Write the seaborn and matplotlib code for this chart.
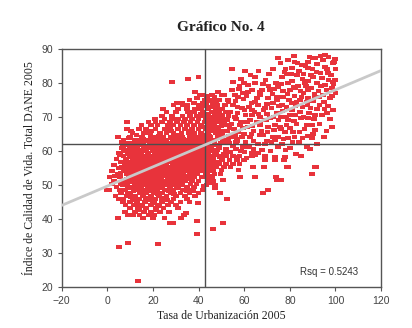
import numpy as np
import pandas as pd
import matplotlib
matplotlib.use("Agg")
import matplotlib.pyplot as plt
import seaborn as sns

# ---- data: rows of (ICV value, [urbanization values]) ----
core_rows = [
    (66.5, [8.5, 13.8, 17, 21, 25, 27.5, 31, 34, 37, 40, 43, 46]),
    (65.3, [11, 16, 18.6, 23, 26, 29, 32.5, 35.5, 38, 41, 44, 47.5, 50]),
    (64.1, [4.6, 9.8, 15.1, 19, 21.5, 24.5, 28, 30.5, 33, 36, 39.5, 42, 45, 48.5]),
    (63.2, [7, 12, 14, 17.5, 20, 23, 26, 29.5, 31.5, 34.5, 37.5, 40.5, 43.5, 46.3, 51]),
    (62.2, [9, 11.5, 15.5, 18.5, 22, 25, 27, 30, 33, 35.5, 38.5, 41.5, 44, 47]),
    (61.2, [6.8, 10, 13, 16.5, 19.5, 21, 24, 27.5, 29, 32, 34, 37, 40, 42.5, 45.5, 49]),
    (60.3, [8, 12, 14.5, 17, 20.5, 23, 25.5, 28.5, 31, 33.5, 36, 39, 43, 46, 48]),
    (59.4, [5, 9.5, 11, 15, 18, 21.5, 24.5, 27, 30, 32.5, 35, 38, 41, 44, 47.5, 52]),
    (58.5, [7, 10.5, 13.5, 16, 19, 22.5, 26, 28, 31, 34.5, 37, 40, 42.5, 45, 49.5]),
    (57.6, [4, 8, 12, 14.5, 17.5, 20, 23.5, 25, 29, 32, 36, 39, 43.5, 46.5]),
    (56.7, [6, 10, 13, 15.5, 18.5, 21, 24, 27, 30.5, 33, 35, 38, 41.5, 44.5, 48]),
    (55.8, [3, 7.5, 11, 14, 16.5, 19.5, 22.5, 26, 28.5, 31.5, 34, 37, 40, 43, 46]),
    (54.9, [5, 9, 12.5, 15, 18, 21, 23.5, 27.5, 30, 33, 36, 39, 42, 45]),
    (54.0, [2, 7, 10.5, 13.5, 17, 20, 22, 25, 29, 31.5, 34.5, 38, 41, 44.5]),
    (53.1, [4.5, 8.5, 12, 15.5, 18.5, 21.5, 24, 26.5, 30.5, 33, 36, 39.5, 43]),
    (52.2, [1, 5.5, 9.5, 11, 14, 17, 20, 23, 27, 29.5, 32, 35, 38, 41.5]),
    (51.3, [3, 7, 10, 13, 16, 19, 22, 25, 28, 31, 34, 37, 40]),
    (50.4, [2, 6, 8.5, 12, 14.5, 18, 21, 24, 26.5, 30, 33, 36.5, 39]),
    (49.5, [4, 9, 11.5, 15, 17.5, 20, 23, 27.5, 31, 35, 38]),
    (48.6, [-0.3, 1, 5.5, 8, 12.5, 16, 19, 22, 25, 29, 33, 37, 42]),
    (47.7, [6, 10, 14, 17, 20.5, 24, 28, 32, 36, 40]),
    (46.8, [3.5, 8.5, 12, 15.5, 19, 22.5, 26, 30, 34, 38.5]),
    (45.9, [5, 7, 11, 14, 18, 21, 25, 29, 35]),
    (45.0, [6.8, 10, 13, 16.5, 20, 24, 28, 32, 36]),
    (44.1, [8, 11.5, 15, 19, 22, 26.5, 30]),
    (43.2, [10, 13.3, 17, 21, 24.5, 30.9]),
    (42.0, [7.6, 12, 16, 19, 23, 27]),
    (41.2, [9, 11.2, 14, 18, 20.5, 33.5]),
    (40.3, [4.6, 15.5, 20, 25, 32.2]),
    (38.8, [27.4, 28.7]),
]

upper_left_rows = [
    (67.6, [15, 19, 22, 26.5, 29, 32, 35, 38, 41, 44, 47, 50.5, 53]),
    (68.5, [8.5, 18, 21, 24, 27.5, 30.5, 33.5, 36.5, 39.5, 42.5, 44.1, 46, 49]),
    (69.4, [20.8, 25, 28.3, 31, 34, 37, 40, 43, 45.5, 48, 51.5]),
    (70.3, [23.9, 28.3, 33, 36.2, 39.2, 41.5, 44, 47.5, 50.2, 53]),
    (71.5, [26, 30, 35.3, 38, 42, 45.8, 49, 52]),
    (72.4, [24.3, 31, 34.8, 38.4, 41, 44, 47.5, 50.5]),
    (73.5, [29, 33, 34.8, 40, 43.5, 48, 51.5, 55]),
    (74.1, [30.5, 33, 38, 42, 46]),
    (75.0, [36, 42.7, 45, 49, 52.8]),
    (76.5, [40.6, 41.9, 45.8, 50]),
    (77.4, [38.4, 48.5]),
    (80.3, [28.3]),
    (81.2, [35.3]),
    (81.8, [40]),
]

lower_rows = [
    (58.5, [52, 55, 58, 63.4, 69]),
    (57.4, [50.2, 53.5, 56.8, 60, 69.1, 73.5, 77.4]),
    (56.3, [49, 52, 55, 58]),
    (55.3, [47.5, 51, 54, 63.8, 68.6, 78.7, 91.5]),
    (54.4, [46.5, 50, 57.5]),
    (53.2, [47, 49.5, 89.7]),
    (52.4, [46, 58.1, 64.7, 73.9]),
    (51.5, [44, 74.3, 76.1, 50.6]),
    (50.0, [43.5, 47.1]),
    (49.1, [47.1]),
    (48.2, [37.5]),
    (47.6, [49.3, 68.2]),
    (48.5, [70.4]),
    (46.0, [52.4]),
    (44.7, [39.7]),
    (41.8, [34.4]),
    (39.4, [39.2]),
    (38.8, [50.6]),
    (37.0, [46.3]),
    (35.6, [39.2]),
    (33.0, [9]),
    (32.6, [22.2]),
    (31.8, [5]),
    (21.8, [13.3]),
]

middle_rows = [
    (84.1, [54.6]), (83.5, [60.3]), (82.6, [70.8]), (81.8, [64.7]), (80.3, [55]),
    (80.0, [59.9, 73.9]), (79.4, [61.6]), (79.7, [68.2]), (79.0, [58]), (78.0, [63.5]),
    (77.9, [54.6, 71.3]), (77.1, [59.4]), (77.4, [66.9]), (76.5, [56]), (76.0, [61]),
    (75.9, [57.2, 74.3]), (75.6, [70.4]), (75.5, [65.5]), (75.0, [52.8]), (74.5, [53]),
    (74.4, [64.7]), (74.1, [72.6]), (73.5, [51.5, 66]), (73.0, [57, 62]), (72.9, [48]),
    (72.6, [59, 69.1]), (72.5, [72]), (72.0, [68.5]), (71.5, [45.8, 54, 64.5]),
    (71.0, [70]), (70.6, [50.2, 63.4]), (70.5, [60.5]), (70.0, [55.9, 67]),
    (69.7, [71.3]), (69.5, [56.5]), (69.0, [52.5, 62.5]), (68.5, [48, 58.5, 65.5]),
    (68.0, [54.5]), (67.6, [52.8, 66.9, 73.5]), (67.2, [50]), (67.0, [45.5, 61.5, 70.5]),
    (66.8, [59.4]), (66.5, [55.5]), (66.2, [48.5]), (66.0, [51, 64, 67.5]), (65.8, [46.5]),
    (65.5, [57.5]), (65.0, [60]), (64.8, [49]), (64.7, [55.9, 68.2]), (64.5, [44.5, 53]),
    (64.1, [62.5, 72.6]), (63.5, [50.5]), (63.2, [46.3]), (63.0, [57, 64, 70]),
    (62.8, [47]), (62.5, [60.5, 72]), (62.4, [51.5]), (62.2, [53.5]), (62.0, [66]),
    (61.5, [45, 55]), (61.2, [59.4, 62]), (61.0, [49]), (60.5, [52]), (60.3, [47.1, 67.8]),
    (60.0, [58.5, 71.5]), (59.5, [66]), (59.4, [63.4]), (58.8, [64.7]), (58.2, [56.8, 73.5]),
    (58.0, [61]), (57.9, [50.2]),
]

right_rows = [
    (88.2, [95.4]), (87.5, [97]), (87.4, [74.8, 90.1, 91]), (87.0, [99.8]), (86.8, [79.2]),
    (86.0, [82, 88]), (85.9, [98.9]), (85.5, [92]), (85.3, [85.3]), (84.7, [95.4]),
    (84.4, [80.9, 87.9]), (84.0, [78, 90, 100]), (83.5, [84]), (83.0, [93.5]), (82.9, [96.7]),
    (82.5, [78.5, 86]), (82.4, [83.1]), (81.8, [76.5, 90.1]), (81.5, [94]), (81.0, [85.5]),
    (80.9, [99.8]), (80.5, [81, 88]), (80.3, [98.9]), (80.0, [79.2, 86.6, 92]), (79.4, [95.4]),
    (79.0, [83.5]), (78.8, [74.8]), (78.5, [82.2, 89.5, 98.5]), (78.0, [80, 96]), (77.9, [87.9]),
    (77.5, [77, 92.5]), (77.0, [86, 100]), (76.5, [94.5]), (76.0, [82]), (75.9, [77, 91]),
    (75.5, [88, 97.5]), (75.0, [74.3, 84.4]), (74.5, [83, 95]), (74.4, [87.5]), (74.1, [80.9]),
    (73.5, [76.5, 93]), (73.0, [78.5, 85.5]), (72.5, [89]), (72.4, [91.9]), (72.0, [81, 99]),
    (71.5, [84.4]), (71.2, [74.3, 96.3]), (70.6, [82.2]), (70.5, [80, 94]), (70.0, [76, 86]),
    (69.7, [87.9]), (69.5, [90.5, 97.5]), (69.1, [79.2]), (69.0, [75]), (68.0, [83, 93]),
    (67.6, [89.7]), (67.5, [78.5]), (67.1, [75.7, 98.5]), (66.5, [86.5]), (66.2, [91]),
    (66.0, [96]), (65.6, [77.8, 81.4]), (64.5, [88]), (64.1, [74.8]), (64.0, [82, 95]),
    (63.8, [79.2, 89.7]), (62.5, [84]), (62.0, [76.5, 92]), (61.2, [74.8, 87.5]), (61.0, [80]),
    (60.6, [88.8]), (58.5, [85]), (58.2, [77.8]), (55.3, [79.2, 91]),
]

# extra (urbanization, ICV) pairs filling the dense parts of the cloud
core_fill = [
    (10.3,66.0),(19.4,65.9),(28.1,65.8),(36.2,65.9),(44.6,65.8),
    (12.8,64.8),(22.6,64.5),(31.4,64.6),(37.8,64.5),(43.3,64.7),
    (9.4,63.7),(15.8,63.6),(21.4,63.8),(24.6,63.6),(28.1,63.7),(33.2,63.5),(36.1,63.8),(39.2,63.6),(42.1,63.9),(48.3,63.7),
    (6.3,62.7),(13.4,62.6),(17.1,62.8),(20.6,62.5),(23.9,62.7),(28.7,62.6),(31.6,62.9),(34.3,62.4),(37.2,62.6),(40.1,62.7),(42.8,62.5),(45.6,62.8),
    (8.4,61.7),(11.6,61.6),(14.7,61.8),(18.1,61.5),(22.6,61.7),(25.8,61.6),(30.7,61.8),(33.3,61.5),(35.7,61.7),(38.6,61.6),(41.3,61.8),(44.2,61.5),(47.4,61.7),
    (6.2,60.8),(10.3,60.7),(13.1,60.9),(15.9,60.6),(19.1,60.8),(21.8,60.7),(24.3,60.9),(27.1,60.6),(29.8,60.8),(32.4,60.7),(34.9,60.9),(37.6,60.6),(40.7,60.8),(44.6,60.7),
    (7.3,59.9),(12.8,59.8),(16.4,60.0),(19.7,59.9),(23.1,59.7),(26.2,59.9),(28.6,60.0),(31.4,59.8),(34.2,59.9),(36.6,59.7),(39.7,59.9),(42.3,59.8),(45.8,59.9),
    (5.6,58.9),(8.9,59.0),(12.2,58.8),(14.8,59.1),(17.6,58.9),(20.9,59.0),(24.1,58.8),(27.2,59.1),(29.6,58.9),(32.8,59.0),(35.8,58.8),(38.6,59.1),(41.4,58.9),(43.8,59.0),(47.2,58.8),
    (9.6,58.1),(11.2,57.9),(15.8,58.0),(18.4,58.2),(21.7,57.9),(24.4,58.1),(26.9,58.0),(30.3,57.9),(33.4,58.1),(35.1,58.0),(37.9,57.9),(41.2,58.1),(44.8,58.0),
    (8.1,57.1),(11.7,57.2),(14.2,57.0),(16.9,57.2),(19.8,57.1),(22.6,57.0),(25.7,57.2),(28.4,57.1),(31.8,57.0),(34.2,57.2),(36.8,57.1),(40.1,57.0),(42.7,57.2),(46.3,57.1),
    (9.1,56.3),(12.1,56.1),(14.8,56.3),(17.7,56.2),(20.3,56.1),(23.2,56.3),(25.1,56.2),(28.9,56.1),(32.1,56.3),(35.9,56.2),(39.3,56.1),(42.2,56.3),(44.9,56.2),
    (6.3,55.4),(10.2,55.3),(13.1,55.5),(16.8,55.4),(19.2,55.3),(21.8,55.5),(24.9,55.4),(27.3,55.3),(30.8,55.5),(34.9,55.4),(37.8,55.3),(40.9,55.5),(44.1,55.4),
    (8.1,54.4),(11.4,54.6),(14.2,54.5),(16.6,54.4),(19.4,54.6),(22.7,54.5),(26.3,54.4),(28.2,54.6),(31.9,54.5),(35.2,54.4),(37.4,54.6),(40.2,54.5),(43.4,54.4),
    (5.7,53.6),(9.4,53.5),(11.8,53.7),(15.1,53.6),(18.2,53.5),(21.1,53.7),(23.6,53.6),(27.6,53.5),(30.3,53.7),(33.3,53.6),(36.8,53.5),(39.2,53.7),
    (3.1,52.7),(10.3,52.8),(13.2,52.7),(16.4,52.6),(19.3,52.8),(22.4,52.7),(25.2,52.6),(28.4,52.8),(31.6,52.7),(34.1,52.6),(37.2,52.8),
    (8.3,51.7),(11.8,51.9),(14.7,51.8),(17.6,51.7),(20.6,51.9),(23.7,51.8),(26.4,51.7),(29.6,51.9),(32.7,51.8),(35.6,51.7),
    (7.6,50.8),(10.9,51.0),(13.4,50.9),(16.7,50.8),(19.6,51.0),(22.8,50.9),(25.6,50.8),(28.7,51.0),(31.8,50.9),
    (6.8,49.9),(13.6,50.0),(16.2,49.9),(19.2,50.1),(21.6,50.0),(25.2,49.9),(28.9,50.1),(32.6,50.0),
    (10.4,49.2),(13.8,49.1),(17.6,49.0),(20.8,49.2),(24.1,49.1),(30.4,49.2),
    (11.4,48.3),(14.7,48.2),(18.2,48.1),(21.3,48.3),(27.1,48.1),(34.7,48.2),
    (9.1,47.2),(15.8,47.3),(22.1,47.4),(29.3,47.2),
    (10.4,46.4),(16.9,46.3),(23.8,46.2),
    (11.9,45.5),(18.6,45.5),(26.1,45.5),
    (13.1,44.5),(20.7,44.6),
    (15.1,43.7),(22.8,43.7),
    (14.1,42.5),(21.6,42.6),
]

middle_fill = [
    (42.3,67.1),(44.8,66.9),(47.6,67.0),(43.4,69.9),(46.4,70.0),(49.6,69.0),(41.1,70.9),(43.6,71.0),
    (47.1,71.2),(40.2,72.9),(42.6,73.1),(45.6,72.8),(49.9,72.2),(44.3,74.7),(47.5,74.6),(39.3,75.6),
    (43.7,76.0),(46.9,75.8),(51.3,76.3),(48.2,64.1),(50.2,65.1),(52.4,65.9),(46.1,68.3),(51.1,68.1),
    (53.6,66.8),(49.8,62.2),(52.8,63.3),(54.6,64.2),(56.3,62.6),(51.2,59.2),(53.8,59.8),(56.4,60.6),
    (49.1,58.2),(47.2,56.2),(45.8,54.8),(43.6,53.7),(45.1,52.7),(42.7,52.2),(46.3,51.2),(44.6,50.6),
    (42.1,49.6),
]

right_fill = [
    (58.6,81.2),(62.8,82.4),(66.2,83.6),(69.4,80.8),(72.6,84.2),(75.9,85.8),(77.6,83.2),(80.6,82.6),
    (83.4,85.9),(86.8,84.9),(89.3,82.2),(91.6,83.1),(94.6,86.8),(96.4,84.1),(98.1,82.2),(99.4,86.2),
    (93.4,88.0),(88.6,87.6),(81.8,87.8),
    (57.8,78.2),(61.7,77.2),(64.8,79.9),(67.8,77.9),(70.6,79.2),(73.1,78.1),(76.2,79.8),(78.9,76.6),
    (81.6,78.9),(84.6,77.6),(87.1,79.2),(90.8,76.8),(93.6,79.2),(96.9,80.9),(99.1,79.7),
    (56.2,74.6),(59.6,75.4),(63.1,74.1),(66.8,76.4),(69.9,73.7),(72.4,76.8),(75.2,73.2),(79.6,74.9),
    (82.4,73.1),(85.1,75.9),(87.8,73.5),(90.2,74.8),(92.8,75.9),(96.6,73.1),(98.4,76.2),
    (57.1,71.1),(60.2,72.1),(63.3,71.9),(66.2,70.8),(69.6,69.2),(72.9,70.1),(76.7,71.8),(78.4,70.1),
    (81.9,68.9),(84.9,69.6),(88.4,71.1),(91.1,70.6),(95.2,72.3),
    (58.1,67.6),(61.1,68.4),(63.6,67.4),(67.2,68.1),(70.1,65.6),(73.1,66.2),(76.2,66.4),(80.1,66.8),
    (84.2,65.6),(87.2,67.6),(90.1,65.1),
    (56.8,63.6),(59.1,64.2),(63.2,65.1),(66.6,64.6),(69.2,62.1),(73.6,63.1),(77.2,63.4),(81.1,62.7),
    (85.6,63.9),(78.1,60.2),(82.6,59.2),(64.1,60.6),(60.1,59.8),
]

# reference lines (means) and fit label
mean_urban = 42.7
mean_icv = 62.1
rsq_label = "Rsq = 0.5243"

x_ticks = [-20, 0, 20, 40, 60, 80, 100, 120]
y_ticks = [20, 30, 40, 50, 60, 70, 80, 90]

title = "Gráfico No. 4"
x_label = "Tasa de Urbanización 2005"
y_label = "Índice de Calidad de Vida. Total DANE 2005"

# ---- build table ----
recs = []
for rows in (core_rows, upper_left_rows, lower_rows, middle_rows, right_rows):
    for yv, xs in rows:
        for xv in xs:
            recs.append((xv, yv))
recs += core_fill + middle_fill + right_fill
df = pd.DataFrame(recs, columns=["urb", "icv"])

sns.set_style("white")
plt.rcParams["font.family"] = ["Liberation Sans", "DejaVu Sans"]

fig = plt.figure(figsize=(4.12, 3.28), dpi=100)
ax = fig.add_axes([0.150, 0.125, 0.775, 0.726])
ax.set_xlim(-20, 120)
ax.set_ylim(20, 90)

rect = [(-1.0, -0.72), (1.0, -0.72), (1.0, 0.72), (-1.0, 0.72), (-1.0, -0.72)]
sns.scatterplot(data=df, x="urb", y="icv", ax=ax, marker=rect, s=16,
                color="#E8333B", linewidth=0, edgecolor="none", zorder=2)

ax.axvline(mean_urban, color="#4d4d4d", lw=1.0, zorder=3)
ax.axhline(mean_icv, color="#4d4d4d", lw=1.0, zorder=3)

sns.regplot(data=df, x="urb", y="icv", ax=ax, scatter=False, ci=None,
            truncate=False, line_kws=dict(color="#C9C9C9", lw=2.0, zorder=4))
ax.set_xlim(-20, 120)
ax.set_ylim(20, 90)

ax.text(84.5, 24.5, rsq_label, fontsize=7, color="#333333", va="center",
        ha="left", family=["Liberation Sans", "DejaVu Sans"])

ax.set_xticks(x_ticks)
ax.set_yticks(y_ticks)
ax.tick_params(axis="both", labelsize=7.5, colors="#555555", labelcolor="#444444",
               length=3, width=0.8, direction="out", bottom=True, left=True)
for sp in ax.spines.values():
    sp.set_color("#555555")
    sp.set_linewidth(1.0)

serif = ["Liberation Serif", "DejaVu Serif"]
ax.set_xlabel(x_label, family=serif, fontsize=8.5, color="#222222", labelpad=3)
ax.set_ylabel(y_label, family=serif, fontsize=8.5, color="#222222", labelpad=4)
fig.text(0.535, 0.915, title, family=serif, fontsize=11, fontweight="bold",
         ha="center", va="center", color="#222222")

fig.savefig("out.png", dpi=100)
